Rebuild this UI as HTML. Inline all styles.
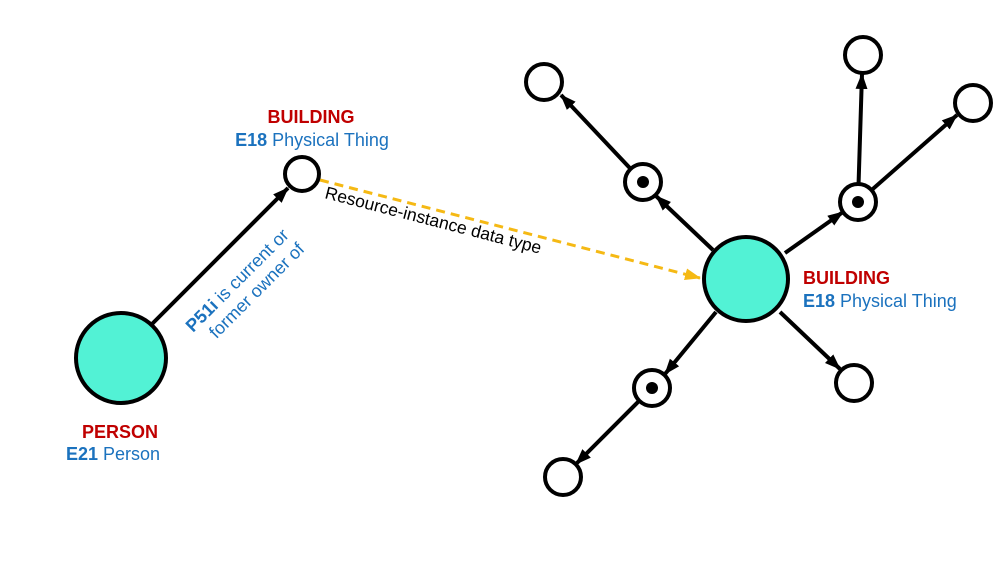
<!DOCTYPE html>
<html><head><meta charset="utf-8"><style>
body{margin:0;background:#fff;width:1000px;height:563px;overflow:hidden}
text{font-family:"Liberation Sans",sans-serif}
</style></head><body>
<svg width="1000" height="563" viewBox="0 0 1000 563">
<defs>
<marker id="a" markerWidth="16" markerHeight="14" refX="15" refY="7" orient="auto" markerUnits="userSpaceOnUse"><path d="M0,1 L16,7 L0,13 z" fill="#000"/></marker>
<marker id="y" markerWidth="16" markerHeight="14" refX="15" refY="7" orient="auto" markerUnits="userSpaceOnUse"><path d="M0,1 L16,7 L0,13 z" fill="#f5b914"/></marker>
</defs>
<g stroke="#000" stroke-width="4" fill="none">
<line x1="152" y1="324" x2="288" y2="188" marker-end="url(#a)"/>
<line x1="713" y1="250" x2="656" y2="196" marker-end="url(#a)"/>
<line x1="643" y1="182" x2="561" y2="95" marker-end="url(#a)"/>
<line x1="785" y1="253" x2="843" y2="212" marker-end="url(#a)"/>
<line x1="858" y1="202" x2="862" y2="74" marker-end="url(#a)"/>
<line x1="858" y1="202" x2="957" y2="115" marker-end="url(#a)"/>
<line x1="780" y1="312" x2="840" y2="369" marker-end="url(#a)"/>
<line x1="716" y1="312" x2="665" y2="374" marker-end="url(#a)"/>
<line x1="650" y1="390" x2="576" y2="464" marker-end="url(#a)"/>
</g>
<line x1="320" y1="180" x2="700" y2="278" stroke="#f5b914" stroke-width="3" stroke-dasharray="9,6" marker-end="url(#y)"/>
<g stroke="#000" stroke-width="4">
<circle cx="121" cy="358" r="45" fill="#52f2d5"/>
<circle cx="746" cy="279" r="42" fill="#52f2d5"/>
<g fill="#fff">
<circle cx="302" cy="174" r="17"/>
<circle cx="544" cy="82" r="18"/>
<circle cx="863" cy="55" r="18"/>
<circle cx="973" cy="103" r="18"/>
<circle cx="854" cy="383" r="18"/>
<circle cx="563" cy="477" r="18"/>
<circle cx="643" cy="182" r="18"/>
<circle cx="858" cy="202" r="18"/>
<circle cx="652" cy="388" r="18"/>
</g></g>
<circle cx="643" cy="182" r="6"/><circle cx="858" cy="202" r="6"/><circle cx="652" cy="388" r="6"/>
<g font-size="18" text-anchor="middle">
<text x="311" y="123" fill="#c00000" font-weight="bold">BUILDING</text>
<text x="312" y="146" fill="#1b72be"><tspan font-weight="bold">E18</tspan> Physical Thing</text>
<text x="120" y="438" fill="#c00000" font-weight="bold">PERSON</text>
<text x="113" y="460" fill="#1b72be"><tspan font-weight="bold">E21</tspan> Person</text>
</g>
<g font-size="18">
<text x="803" y="284" fill="#c00000" font-weight="bold">BUILDING</text>
<text x="803" y="307" fill="#1b72be"><tspan font-weight="bold">E18</tspan> Physical Thing</text>
</g>
<g transform="translate(193,333) rotate(-45)" font-size="18" fill="#1b72be">
<text x="0" y="0"><tspan font-weight="bold">P51i</tspan> is current or</text>
<text x="12" y="21">former owner of</text>
</g>
<text transform="translate(324,198) rotate(14.5)" font-size="17.5" fill="#000">Resource-instance data type</text>
</svg>
</body></html>
